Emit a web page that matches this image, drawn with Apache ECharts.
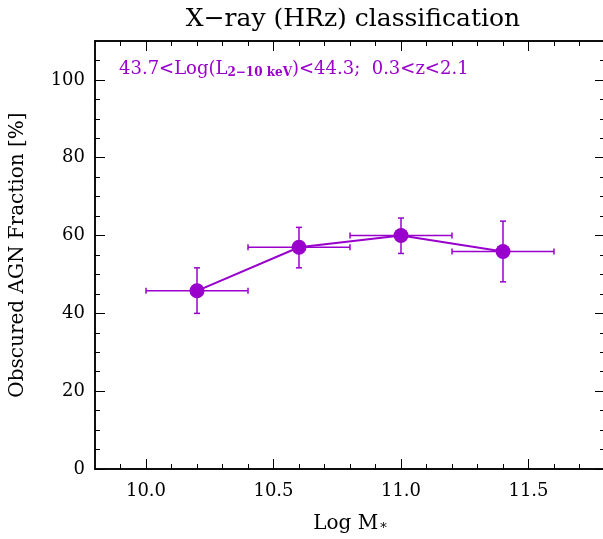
<!DOCTYPE html>
<html>
<head>
<meta charset="utf-8">
<script src="https://cdn.jsdelivr.net/npm/echarts@6/dist/echarts.min.js"></script>
<style>
  html, body { margin: 0; padding: 0; background: #fff; }
  #chart-container { width: 603px; height: 539px; }
</style>
</head>
<body>
<div id="chart-container"></div>
<script>
var dom = document.getElementById("chart-container");
var myChart = echarts.init(dom, null, { renderer: "canvas" });

// stellar mass bins (Log M*)
const massCenter = [10.2, 10.6, 11.0, 11.4];
const massLow = [10.0, 10.4, 10.8, 11.2];
const massHigh = [10.4, 10.8, 11.2, 11.6];
// obscured fraction [%] and its error range
const fraction = [45.8, 57.0, 60.0, 55.9];
const fractionLow = [40.0, 51.7, 55.4, 48.1];
const fractionHigh = [51.7, 62.1, 64.5, 63.7];

// axis ticks
const xMajorTicks = [10.0, 10.5, 11.0, 11.5];
const xMinorTicks = [9.9, 10.1, 10.2, 10.3, 10.4, 10.6, 10.7, 10.8, 10.9, 11.1, 11.2, 11.3, 11.4, 11.6, 11.7];
const yMajorTicks = [0, 20, 40, 60, 80, 100];
const yMinorTicks = [5, 10, 15, 25, 30, 35, 45, 50, 55, 65, 70, 75, 85, 90, 95, 105];

const purple = "#9900cc";
const serif = "DejaVu Serif";

function xAxisDef(pos, ticks, len, labels) {
  return {
    type: "value",
    position: pos,
    min: 9.8,
    max: 11.8,
    axisLine: { show: true, onZero: false, lineStyle: { color: "#000", width: 1.5 } },
    axisTick: { show: true, inside: true, length: len, customValues: ticks, lineStyle: { color: "#000", width: 1 } },
    axisLabel: {
      show: labels,
      customValues: ticks,
      margin: 13,
      color: "#000",
      fontFamily: serif,
      fontSize: 18,
      formatter: (v) => v.toFixed(1)
    },
    splitLine: { show: false }
  };
}

function yAxisDef(pos, ticks, len, labels) {
  return {
    type: "value",
    position: pos,
    min: 0,
    max: 110,
    axisLine: { show: true, onZero: false, lineStyle: { color: "#000", width: 1.5 } },
    axisTick: { show: true, inside: true, length: len, customValues: ticks, lineStyle: { color: "#000", width: 1 } },
    axisLabel: {
      show: labels,
      customValues: ticks,
      margin: 10,
      color: "#000",
      fontFamily: serif,
      fontSize: 18
    },
    splitLine: { show: false }
  };
}

var xBottom = xAxisDef("bottom", xMajorTicks, 10, true);
xBottom.name = "{a|Log M}{s|*}";
xBottom.nameLocation = "middle";
xBottom.nameGap = 44;
xBottom.nameTextStyle = {
  rich: {
    a: { fontFamily: serif, fontSize: 20, color: "#000" },
    s: { fontFamily: serif, fontSize: 13, color: "#000", padding: [9, 0, 0, 2] }
  }
};

var yLeft = yAxisDef("left", yMajorTicks, 10, true);
yLeft.name = "Obscured AGN Fraction [%]";
yLeft.nameLocation = "middle";
yLeft.nameGap = 67;
yLeft.nameTextStyle = { fontFamily: serif, fontSize: 20, color: "#000" };

var option = {
  animation: false,
  title: {
    text: "X\u2212ray (HRz) classification",
    left: 348,
    textAlign: "center",
    top: 2,
    textStyle: { fontFamily: serif, fontWeight: "normal", fontSize: 25, color: "#000" }
  },
  grid: { left: 95, width: 510, top: 41, bottom: 70, outerBoundsMode: "none" },
  xAxis: [
    xBottom,
    xAxisDef("bottom", xMinorTicks, 5, false),
    xAxisDef("top", xMajorTicks, 10, false),
    xAxisDef("top", xMinorTicks, 5, false)
  ],
  yAxis: [
    yLeft,
    yAxisDef("left", yMinorTicks, 5, false),
    yAxisDef("right", yMajorTicks, 10, false),
    yAxisDef("right", yMinorTicks, 5, false)
  ],
  graphic: [
    {
      type: "text",
      left: 119,
      top: 60,
      style: {
        text: "{m|43.7<Log(L}{s|2\u221210 keV}{m|)<44.3;  0.3<z<2.1}",
        rich: {
          m: { fontFamily: serif, fontSize: 18, fill: purple },
          s: { fontFamily: serif, fontSize: 12, fontWeight: "bold", fill: purple, padding: [8, 0, 0, 0] }
        }
      }
    }
  ],
  series: [
    {
      name: "errors",
      type: "custom",
      xAxisIndex: 0,
      yAxisIndex: 0,
      data: massCenter.map((m, i) => [m, fraction[i], massLow[i], massHigh[i], fractionLow[i], fractionHigh[i]]),
      renderItem: function (params, api) {
        var c = api.coord([api.value(0), api.value(1)]);
        var xl = api.coord([api.value(2), api.value(1)]);
        var xh = api.coord([api.value(3), api.value(1)]);
        var yl = api.coord([api.value(0), api.value(4)]);
        var yh = api.coord([api.value(0), api.value(5)]);
        var cap = 3;
        var st = { stroke: purple, lineWidth: 1.5 };
        return {
          type: "group",
          children: [
            { type: "line", shape: { x1: xl[0], y1: c[1], x2: xh[0], y2: c[1] }, style: st },
            { type: "line", shape: { x1: xl[0], y1: c[1] - cap, x2: xl[0], y2: c[1] + cap }, style: st },
            { type: "line", shape: { x1: xh[0], y1: c[1] - cap, x2: xh[0], y2: c[1] + cap }, style: st },
            { type: "line", shape: { x1: c[0], y1: yl[1], x2: c[0], y2: yh[1] }, style: st },
            { type: "line", shape: { x1: c[0] - cap, y1: yl[1], x2: c[0] + cap, y2: yl[1] }, style: st },
            { type: "line", shape: { x1: c[0] - cap, y1: yh[1], x2: c[0] + cap, y2: yh[1] }, style: st }
          ]
        };
      },
      z: 2
    },
    {
      name: "fraction",
      type: "line",
      xAxisIndex: 0,
      yAxisIndex: 0,
      data: massCenter.map((m, i) => [m, fraction[i]]),
      symbol: "circle",
      symbolSize: 15,
      itemStyle: { color: purple },
      lineStyle: { color: purple, width: 2 },
      z: 3
    }
  ]
};

myChart.setOption(option);
window.addEventListener("resize", myChart.resize);
</script>
</body>
</html>
